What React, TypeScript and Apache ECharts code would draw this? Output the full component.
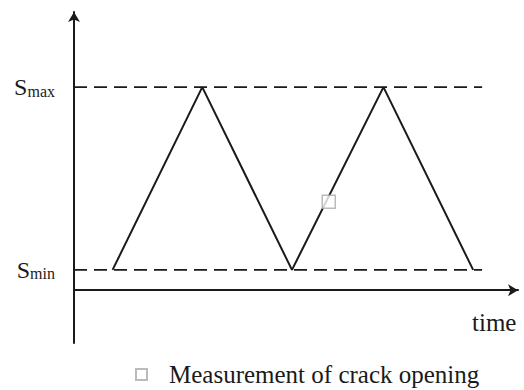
import React, { useEffect, useRef } from "react";
import * as echarts from "echarts";

// Stress waveform (time, stress level)
const waveTime = [0.43, 1.43, 2.43, 3.45, 4.45];
const waveStress = [1, 10, 1, 10, 1];
// Reference stress levels
const sMin = 1;
const sMax = 10;
const levelStart = 0;
const levelEnd = 4.55;
// Measurement point
const measureTime = [2.84];
const measureStress = [4.35];
const legendLabel = "Measurement of crack opening";
const xAxisName = "time";
const levelLabels: Record<number, string> = { 1: "{s|S}{sub|min}", 10: "{s|S}{sub|max}" };

const FONT = "Liberation Serif";
const INK = "#1a1a1a";

export default function App() {
  const ref = useRef<HTMLDivElement>(null);
  useEffect(() => {
    if (!ref.current) return;
    const chart = echarts.init(ref.current, undefined, { renderer: "svg" });
    const wave = waveTime.map((t, i) => [t, waveStress[i]]);
    const levelLine = (v: number) => [
      [levelStart, v],
      [levelEnd, v],
    ];
    chart.setOption({
      animation: false,
      backgroundColor: "#ffffff",
      textStyle: { fontFamily: FONT },
      grid: { left: 74, right: 6, top: 12, bottom: 47, containLabel: false },
      xAxis: {
        type: "value",
        min: 0,
        max: 4.95,
        name: xAxisName,
        nameLocation: "end",
        nameGap: -46,
        nameTextStyle: {
          fontFamily: FONT,
          fontSize: 25,
          color: INK,
          align: "left",
          verticalAlign: "top",
          padding: [20, 0, 0, 0],
        },
        axisLine: {
          onZero: true,
          symbol: ["none", "arrow"],
          symbolSize: [9, 10],
          lineStyle: { color: INK, width: 2 },
        },
        axisTick: { show: false },
        axisLabel: { show: false },
        splitLine: { show: false },
      },
      yAxis: {
        type: "value",
        min: -2.6,
        max: 13.7,
        axisLine: {
          onZero: true,
          symbol: ["none", "arrow"],
          symbolSize: [9, 10],
          lineStyle: { color: INK, width: 2 },
        },
        axisTick: { show: false },
        splitLine: { show: false },
        axisLabel: {
          show: true,
          customValues: [sMin, sMax],
          margin: 19,
          fontFamily: FONT,
          fontSize: 24,
          color: INK,
          formatter: (v: number) => levelLabels[v] ?? "",
          rich: {
            s: {
              fontFamily: FONT,
              fontSize: 24,
              lineHeight: 24,
              color: INK,
              verticalAlign: "bottom",
            },
            sub: {
              fontFamily: FONT,
              fontSize: 16,
              lineHeight: 10,
              color: INK,
              verticalAlign: "bottom",
            },
          },
        },
      },
      legend: {
        left: 135,
        top: 362,
        padding: 0,
        itemWidth: 11,
        itemHeight: 11,
        data: [{ name: legendLabel, icon: "rect" }],
        textStyle: {
          fontFamily: FONT,
          fontSize: 25,
          color: INK,
          padding: [0, 0, 0, 17],
        },
        selectedMode: false,
      },
      series: [
        {
          name: "Smax",
          type: "line",
          data: levelLine(sMax),
          symbol: "none",
          silent: true,
          lineStyle: { color: INK, width: 1.7, type: [13, 7] },
        },
        {
          name: "Smin",
          type: "line",
          data: levelLine(sMin),
          symbol: "none",
          silent: true,
          lineStyle: { color: INK, width: 1.7, type: [13, 7] },
        },
        {
          name: "Stress",
          type: "line",
          data: wave,
          symbol: "none",
          silent: true,
          lineStyle: { color: INK, width: 2 },
        },
        {
          name: legendLabel,
          type: "scatter",
          data: measureTime.map((t, i) => [t, measureStress[i]]),
          symbol: "rect",
          symbolSize: 13,
          silent: true,
          itemStyle: { color: "#ffffff", borderColor: "#aaaaaa", borderWidth: 1.5 },
          z: 5,
        },
      ],
    });
    return () => chart.dispose();
  }, []);
  return <div ref={ref} style={{ width: 524, height: 390, position: "absolute", left: 0, top: 0 }} />;
}
